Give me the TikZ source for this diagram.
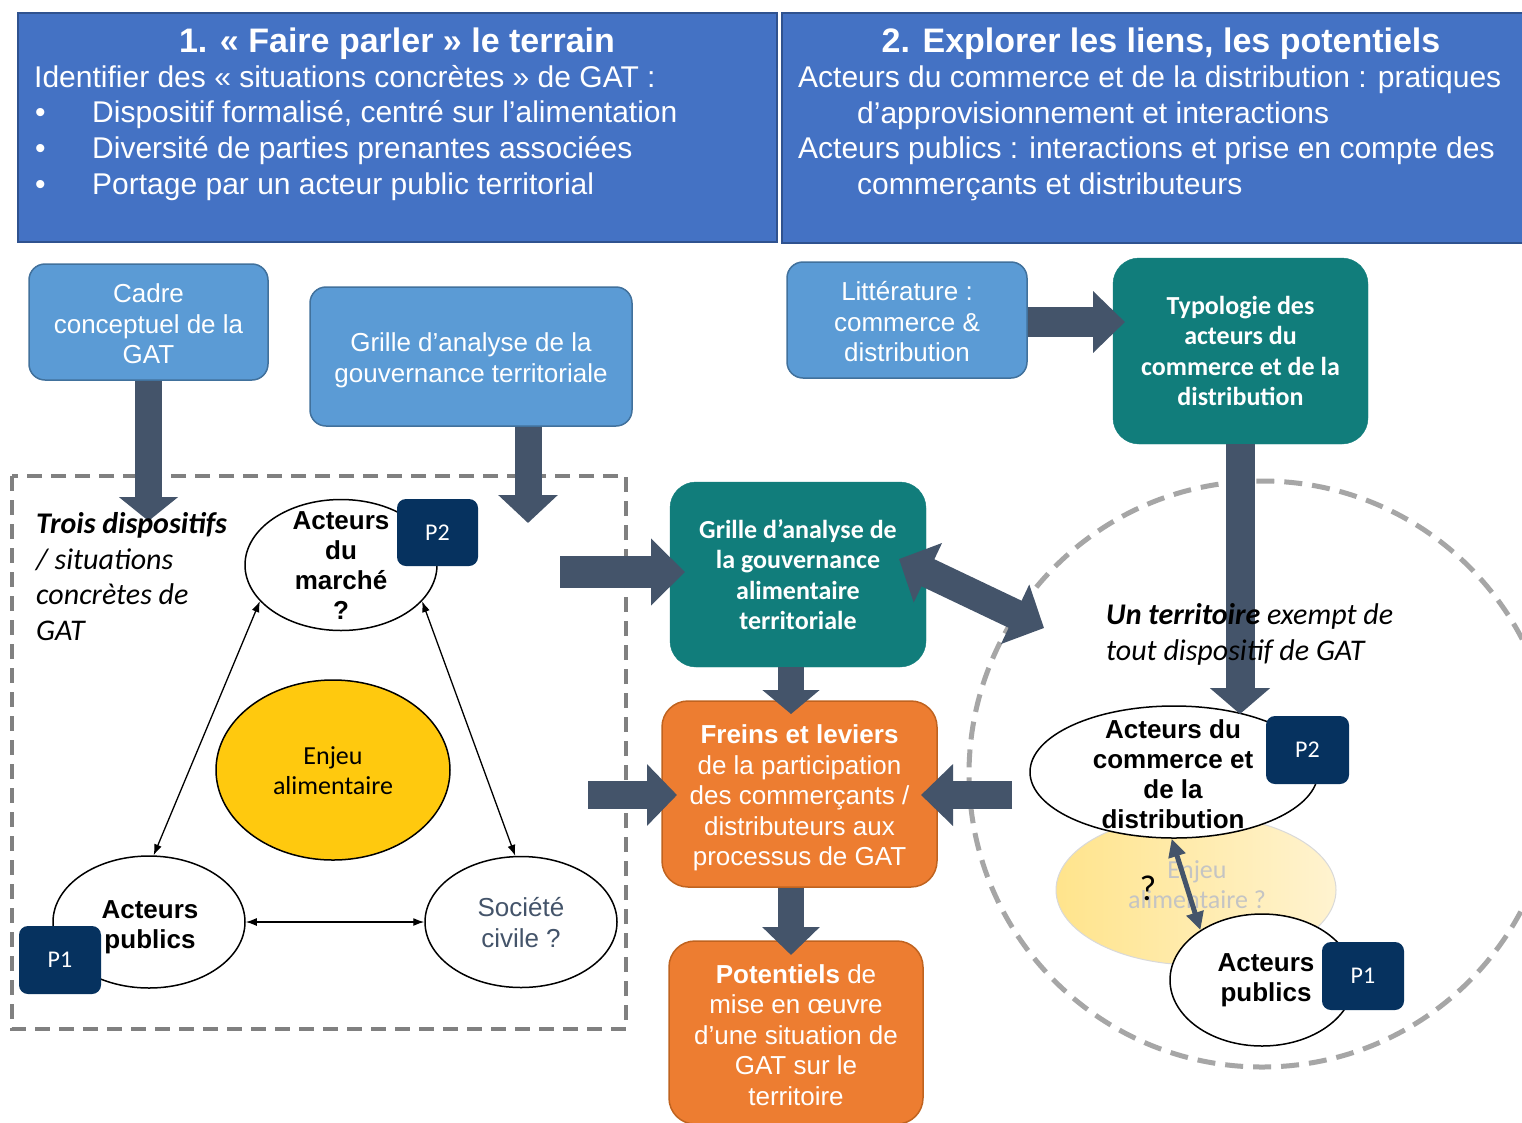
\documentclass[tikz,border=0pt]{standalone}
\usepackage{fontspec}
\setmainfont{Liberation Sans}
\newfontfamily\calfont{Carlito}
\usetikzlibrary{arrows.meta,shapes.geometric,calc}
\definecolor{cHdr}{HTML}{4472C4}
\definecolor{cHdrB}{HTML}{2F528F}
\definecolor{cBlue}{HTML}{5B9BD5}
\definecolor{cBlueB}{HTML}{41719C}
\definecolor{cTeal}{HTML}{117D7B}
\definecolor{cOrange}{HTML}{ED7D31}
\definecolor{cOrangeB}{HTML}{C0631F}
\definecolor{cArrow}{HTML}{44546A}
\definecolor{cNavy}{HTML}{06325F}
\definecolor{cYellow}{HTML}{FFC90E}
\definecolor{cDash}{HTML}{808080}
\definecolor{cDashL}{HTML}{A6A6A6}
\definecolor{cFadeA}{HTML}{FFE48C}
\definecolor{cFadeB}{HTML}{FFF3D0}
\definecolor{cFadeT}{HTML}{C4C4C4}
\definecolor{cFadeBd}{HTML}{D9D9D9}
\definecolor{cSoc}{HTML}{44546A}
\begin{document}
\begin{tikzpicture}[x=1pt,y=-1pt,
  hdrbox/.style={draw=cHdrB, line width=2pt, fill=cHdr, inner sep=0pt},
  hdrtxt/.style={text=white, inner sep=0pt, font=\fontsize{30}{36}\selectfont},
  hdrtitle/.style={text=white, inner sep=0pt, anchor=base, font=\bfseries\fontsize{34}{40}\selectfont},
  bluebox/.style={draw=cBlueB, line width=1.5pt, fill=cBlue, rounded corners=16pt, text=white, align=center, inner sep=0pt, font=\fontsize{26}{30.5}\selectfont},
  tealbox/.style={draw=cTeal, fill=cTeal, rounded corners=26pt, text=white, align=center, inner sep=0pt, font=\calfont\bfseries\fontsize{26}{30.3}\selectfont},
  orbox/.style={draw=cOrangeB, line width=1.5pt, fill=cOrange, rounded corners=26pt, text=white, align=center, inner sep=0pt, font=\fontsize{26}{30.4}\selectfont},
  ell/.style={ellipse, draw=black, line width=1.5pt, fill=white, inner sep=0pt},
  elltxt/.style={align=center, inner sep=0pt, font=\bfseries\fontsize{26}{30}\selectfont},
  pbox/.style={fill=cNavy, rounded corners=9pt, text=white, inner sep=0pt, font=\calfont\fontsize{24}{28}\selectfont},
  ital/.style={inner sep=0pt, anchor=base west, font=\calfont\itshape\fontsize{30}{35}\selectfont},
  fat/.style n args={3}{draw=cArrow, line width=#1pt, -{Triangle[width=#2pt,length=#3pt]}},
  fatd/.style n args={3}{draw=cArrow, line width=#1pt, {Triangle[width=#2pt,length=#3pt]}-{Triangle[width=#2pt,length=#3pt]}},
  thinarr/.style={line width=1.3pt, {Latex[length=11pt,width=8pt]}-{Latex[length=11pt,width=8pt]}}
]
\fill[white] (0,0) rectangle (1522,1122);
\useasboundingbox (0,0) rectangle (1522,1122);

% dashed frames
\draw[cDash, line width=4pt, dash pattern=on 15pt off 9pt] (12,476) rectangle (626,1029);
\node[circle, draw=cDashL, line width=5pt, dash pattern=on 18pt off 10pt, minimum size=586pt, inner sep=0pt] (terr) at (1262,774) {};

% headers
\node[hdrbox, minimum width=759pt, minimum height=229pt, anchor=north west] (H1) at (17,12) {};
\node[hdrbox, minimum width=750pt, minimum height=230pt, anchor=north west] (H2) at (781,12) {};
\node[hdrtitle] (H1t) at (397,52) {1. « Faire parler » le terrain};
\node[hdrtxt, anchor=base west] (H1a) at (34,87.5) {Identifier des « situations concrètes » de GAT :};
\node[hdrtxt, anchor=base west] (H1b1) at (35,122.5) {•};
\node[hdrtxt, anchor=base west] (H1b) at (92,122.5) {Dispositif formalisé, centré sur l’alimentation};
\node[hdrtxt, anchor=base west] (H1c1) at (35,158.5) {•};
\node[hdrtxt, anchor=base west] (H1c) at (92,158.5) {Diversité de parties prenantes associées};
\node[hdrtxt, anchor=base west] (H1d1) at (35,194.5) {•};
\node[hdrtxt, anchor=base west] (H1d) at (92,194.5) {Portage par un acteur public territorial};
\node[hdrtitle] (H2t) at (1161,52) {2. Explorer les liens, les potentiels};
\node[hdrtxt, anchor=base west] (H2a) at (798,87.5) {Acteurs du commerce et de la distribution : pratiques};
\node[hdrtxt, anchor=base west] (H2b) at (857,123.5) {d’approvisionnement et interactions};
\node[hdrtxt, anchor=base west] (H2c) at (798,158.5) {Acteurs publics : interactions et prise en compte des};
\node[hdrtxt, anchor=base west] (H2d) at (857,194.5) {commerçants et distributeurs};

% boxes
\node[bluebox, minimum width=239pt, minimum height=116pt] (cadre) at (148.5,322) {};
\node[text=white, align=center, inner sep=0pt, font=\fontsize{26}{30.5}\selectfont] (cadret) at (148.5,324) {Cadre\\conceptuel de la\\GAT};
\node[bluebox, minimum width=322pt, minimum height=139pt] (grilleT) at (471,356.5) {};
\node[text=white, align=center, inner sep=0pt, font=\fontsize{26}{30.5}\selectfont] (grilleTt) at (471,360.5) {Grille d’analyse de la\\gouvernance territoriale};
\node[bluebox, minimum width=240pt, minimum height=116pt] (litt) at (907,320) {};
\node[text=white, align=center, inner sep=0pt, font=\fontsize{26}{30.5}\selectfont] (littt) at (907,322) {Littérature :\\commerce \&\\distribution};
\node[tealbox, minimum width=255pt, minimum height=186pt] (typo) at (1240.5,351) {Typologie des\\acteurs du\\commerce et de la\\distribution};
\node[tealbox, minimum width=256pt, minimum height=185pt] (grilleA) at (798,574.5) {Grille d’analyse de\\la gouvernance\\alimentaire\\territoriale};
\node[orbox, minimum width=275pt, minimum height=186pt] (freins) at (799.5,794) {};
\node[text=white, align=center, inner sep=0pt, font=\fontsize{26}{30.4}\selectfont] (freinst) at (799.5,798) {\textbf{Freins et leviers}\\de la participation\\des commerçants /\\distributeurs aux\\processus de GAT};
\node[orbox, minimum width=254pt, minimum height=183pt] (pot) at (796,1032.5) {};
\node[text=white, align=center, inner sep=0pt, font=\fontsize{26}{30.4}\selectfont] (pott) at (796,1035) {\textbf{Potentiels} de\\mise en œuvre\\d’une situation de\\GAT sur le\\territoire};

% left triangle of actors
\node[ell, minimum width=192pt, minimum height=131pt] (marche) at (341,565) {};
\node[elltxt] (marchet) at (341,566) {Acteurs\\du\\marché\\?};
\node[pbox, minimum width=81pt, minimum height=67pt] (p2L) at (437.5,532.5) {P2};
\node[ell, fill=cYellow, minimum width=234pt, minimum height=180pt] (enjL) at (333,770) {};
\node[align=center, inner sep=0pt, font=\calfont\fontsize{26}{30}\selectfont] (enjLt) at (333,771) {Enjeu\\alimentaire};
\node[ell, minimum width=192pt, minimum height=132pt] (pubL) at (149,922) {};
\node[elltxt] (pubLt) at (150,927) {Acteurs\\publics};
\node[pbox, minimum width=82pt, minimum height=68pt] (p1L) at (60,960) {P1};
\node[ell, minimum width=192pt, minimum height=131pt] (soc) at (521,922) {};
\node[align=center, inner sep=0pt, text=cSoc, font=\fontsize{26}{31}\selectfont] (soct) at (521,922.5) {Société\\civile ?};
\draw[thinarr] (marche.204) -- (pubL.86);
\draw[thinarr] (marche.336) -- (soc.95);
\draw[thinarr] (pubL.east) -- (soc.west);

% right territory
\node[ellipse, draw=cFadeBd, line width=1pt, left color=cFadeA, right color=cFadeB, minimum width=280pt, minimum height=150pt, inner sep=0pt] (enjR) at (1196,890) {};
\node[align=center, inner sep=0pt, text=cFadeT, font=\calfont\fontsize{26}{30}\selectfont] (enjRt) at (1197,885) {Enjeu\\alimentaire ?};
\node[ell, minimum width=288pt, minimum height=132pt] (comm) at (1174,772) {};
\node[elltxt] (commt) at (1173,774) {Acteurs du\\commerce et\\de la\\distribution};
\node[pbox, minimum width=83pt, minimum height=68pt] (p2R) at (1307.5,750) {P2};
\node[ell, minimum width=184pt, minimum height=132pt] (pubR) at (1262,980) {};
\node[elltxt] (pubRt) at (1266,980) {Acteurs\\publics};
\node[pbox, minimum width=82pt, minimum height=68pt] (p1R) at (1363,976) {P1};
\node[inner sep=0pt, font=\calfont\fontsize{36}{40}\selectfont] (q) at (1148,888) {?};
\draw[draw=cArrow, line width=5pt, {Triangle[width=17pt,length=18pt]}-{Triangle[width=17pt,length=18pt]}] (comm.268) -- (pubR.141);

% fat arrows
\coordinate (tCadre) at (148.5,521);
\draw[fat={27}{58}{24}] (cadre.south) -- (tCadre);
\coordinate (tGT) at (528,523);
\draw[fat={27}{58}{28}] (grilleT.south -| tGT) -- (tGT);
\coordinate (sGA) at (560,572);
\coordinate (tGA) at (685,572);
\draw[fat={32}{65}{34}] (sGA) -- (tGA);
\coordinate (sFL) at (588,795);
\coordinate (tFL) at (677,795);
\draw[fat={28}{60}{30}] (sFL) -- (tFL);
\coordinate (sFR) at (1012,795);
\coordinate (tFR) at (921,795);
\draw[fat={28}{60}{32}] (sFR) -- (tFR);
\coordinate (tGF) at (791,714);
\draw[fat={26}{56}{24}] (grilleA.south -| tGF) -- (tGF);
\coordinate (tFP) at (791,955);
\draw[fat={26}{56}{28}] (freins.south -| tFP) -- (tFP);
\coordinate (tLT) at (1125,322);
\draw[fat={30}{60}{32}] (litt.east |- tLT) -- (tLT);
\coordinate (tTC) at (1240,714);
\draw[fat={29}{59}{26}] (typo.south -| tTC) -- (tTC);
\coordinate (dA) at (899,559);
\coordinate (dB) at (1044,628);
\draw[fatd={30}{64}{32}] (dA) -- (dB);

% italic labels
\node[ital] (tr1) at (36,533) {\bfseries Trois dispositifs};
\node[ital] (tr2) at (36,569) {/ situations};
\node[ital] (tr3) at (36,604) {concrètes de};
\node[ital] (tr4) at (36,640) {GAT};
\node[ital] (un1) at (1106,624) {\textbf{Un territoire} exempt de};
\node[ital] (un2) at (1106,660) {tout dispositif de GAT};
\end{tikzpicture}
\end{document}
